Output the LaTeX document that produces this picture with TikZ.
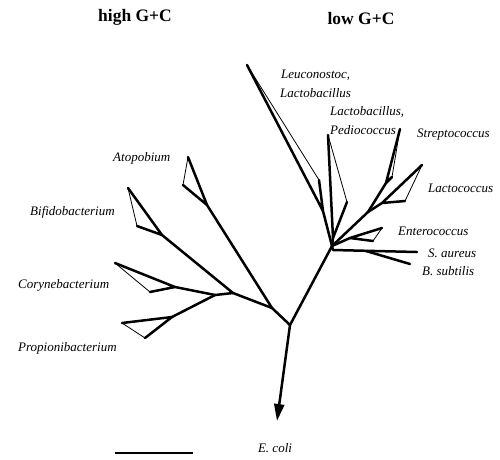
\documentclass[tikz,border=0pt]{standalone}
\usepackage{fontspec}
\setmainfont{Liberation Serif}
\usetikzlibrary{arrows.meta}
\begin{document}
\begin{tikzpicture}[x=1pt,y=-1pt,
  branch/.style={line width=2.5pt, line cap=round, line join=round},
  tipline/.style={line width=0.8pt},
  taxon/.style={font=\fontsize{13}{15}\selectfont\itshape, inner sep=0pt, anchor=west},
  group/.style={font=\fontsize{17.5}{20}\selectfont\bfseries, inner sep=0pt}]
\useasboundingbox (0,0) rectangle (500,459);

% ---- internal nodes ----
\coordinate (root) at (290,325);
\coordinate (low)  at (332,246);
\coordinate (lowB) at (333,250);
\coordinate (high) at (272,308);
\coordinate (hB)   at (233,293);
\coordinate (hC)   at (215,295);
\coordinate (sl)   at (368,212);
\coordinate (sb)   at (366,251);
\coordinate (ecoli) at (277,421);

% ---- collapsed clades: apex, longest tip, shortest tip ----
\coordinate (leuA) at (323,211); \coordinate (leuT) at (247,65);  \coordinate (leuS) at (319,180);
\coordinate (lacA) at (333,238); \coordinate (lacT) at (328,135); \coordinate (lacS) at (347,202);
\coordinate (strA) at (386,183); \coordinate (strT) at (400,129); \coordinate (strS) at (392,177);
\coordinate (lcoA) at (382,203); \coordinate (lcoT) at (422,165); \coordinate (lcoS) at (405,201);
\coordinate (entA) at (350,238); \coordinate (entT) at (382,228); \coordinate (entS) at (373,241);
\coordinate (sau)  at (417,252);
\coordinate (bsu)  at (410,264);
\coordinate (atoA) at (207,205); \coordinate (atoT) at (188,157); \coordinate (atoS) at (183,185);
\coordinate (bifA) at (162,235); \coordinate (bifT) at (128,188); \coordinate (bifS) at (137,226);
\coordinate (corA) at (175,287); \coordinate (corT) at (115,263); \coordinate (corS) at (150,292);
\coordinate (proA) at (172,317); \coordinate (proT) at (122,323); \coordinate (proS) at (145,338);

% ---- backbone ----
\draw[branch] (root) -- (low);
\draw[branch] (root) -- (high);
\draw[branch] (high) -- (atoA);
\draw[branch] (high) -- (hB);
\draw[branch] (hB) -- (bifA);
\draw[branch] (hB) -- (hC);
\draw[branch] (hC) -- (corA);
\draw[branch] (hC) -- (proA);
\draw[branch] (low) -- (leuA);
\draw[branch] (low) -- (lacA);
\draw[branch] (low) -- (sl);
\draw[branch] (sl) -- (strA);
\draw[branch] (sl) -- (lcoA);
\draw[branch] (low) -- (entA);
\draw[branch] (low) -- (lowB) -- (sau);
\draw[branch] (sb) -- (bsu);
\draw[branch, -{Triangle[length=17pt,width=10pt]}] (root) -- (ecoli);

% ---- clade wedges ----
\foreach \c in {leu,lac,str,lco,ent,ato,bif,cor,pro}{
  \draw[branch] (\c T) -- (\c A) -- (\c S);
  \draw[tipline] (\c T) -- (\c S);
}

% ---- scale bar ----
\coordinate (barL) at (115,453);
\coordinate (barR) at (193,453);
\draw[line width=2pt] (barL) -- (barR);

% ---- labels ----
\node[group] (hgc) at (135,17) {high G+C};
\node[group] (lgc) at (361,19) {low G+C};
\node[taxon] (leu1) at (281,75)  {Leuconostoc,};
\node[taxon] (leu2) at (280,93)  {Lactobacillus};
\node[taxon] (lac1) at (330,112) {Lactobacillus,};
\node[taxon] (lac2) at (330,130) {Pediococcus};
\node[taxon] (str)  at (417,135) {Streptococcus};
\node[taxon] (lco)  at (428,188) {Lactococcus};
\node[taxon] (ent)  at (398,231) {Enterococcus};
\node[taxon] (sa)   at (428,253) {S. aureus};
\node[taxon] (bs)   at (422,271) {B. subtilis};
\node[taxon] (ato)  at (113,158) {Atopobium};
\node[taxon] (bif)  at (30,212)  {Bifidobacterium};
\node[taxon] (cor)  at (18,285)  {Corynebacterium};
\node[taxon] (pro)  at (18,348)  {Propionibacterium};
\node[taxon, anchor=center] (eco) at (275,448) {E. coli};
\end{tikzpicture}
\end{document}
